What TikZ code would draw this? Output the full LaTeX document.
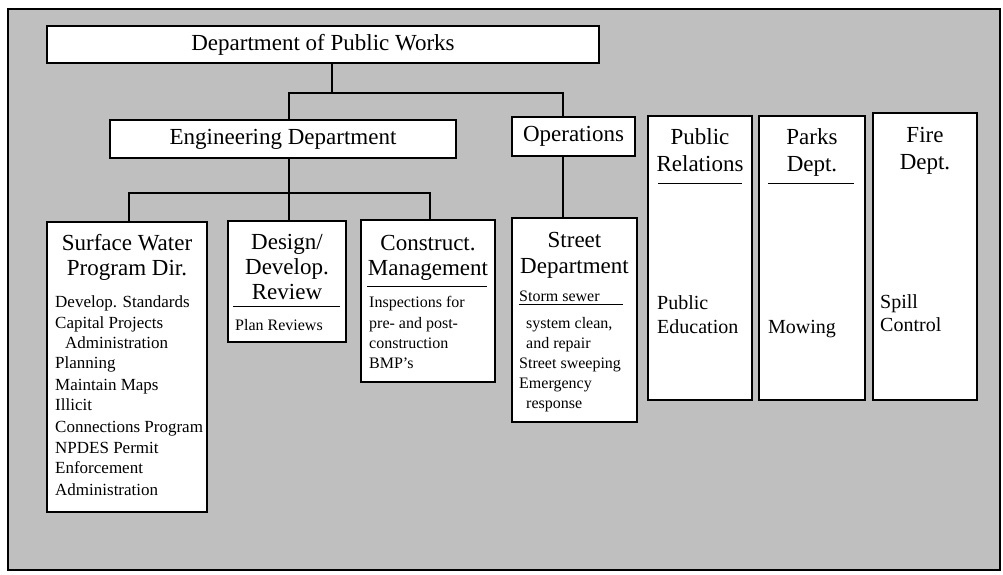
\documentclass[tikz,border=0pt]{standalone}
\usepackage{fontspec}
\setmainfont{Liberation Serif}
\begin{document}
\begin{tikzpicture}[x=1pt,y=-1pt,
  box/.style={draw=black, line width=1.4pt, fill=white, inner sep=0pt, rectangle},
  conn/.style={line width=1.8pt},
  hf/.style={font=\fontsize{23}{27}\selectfont},
  bf/.style={font=\fontsize{16}{20}\selectfont},
  bfl/.style={font=\fontsize{17}{20}\selectfont},
  bfr/.style={font=\fontsize{20}{24}\selectfont},
  ht/.style={inner sep=0pt, anchor=base, hf},
  bt/.style={inner sep=0pt, anchor=base west},
  rulel/.style={line width=0.9pt}]
\useasboundingbox (0,0) rectangle (1003,574);
\fill[black!25] (8,9) rectangle (1000,570);
\draw[line width=2pt] (8,9) rectangle (1000,570);

% boxes
\node[box, hf, minimum width=552pt, minimum height=37pt] (title) at (323,44.5) {Department of Public Works};
\node[box, hf, minimum width=346pt, minimum height=38pt] (eng) at (283,139) {Engineering Department};
\node[box, hf, minimum width=123pt, minimum height=39pt] (ops) at (573.5,136.5) {Operations};
\node[box, minimum width=160pt, minimum height=290pt] (sw) at (127,367) {};
\node[box, minimum width=118pt, minimum height=121pt] (design) at (287,281.5) {};
\node[box, minimum width=134pt, minimum height=162pt] (cons) at (428,301) {};
\node[box, minimum width=125pt, minimum height=204pt] (street) at (574.5,320) {};
\node[box, minimum width=104pt, minimum height=284pt] (pr) at (700,258) {};
\node[box, minimum width=106pt, minimum height=284pt] (parks) at (812,258) {};
\node[box, minimum width=104pt, minimum height=287pt] (fire) at (925,256.5) {};

% connectors
\coordinate (t1) at (332,93);
\coordinate (busL) at (289,93);
\coordinate (busR) at (563,93);
\coordinate (sbL) at (129,193);
\coordinate (sbM) at (289,193);
\coordinate (sbR) at (430,193);
\draw[conn] (t1 |- title.south) -- (t1);
\draw[conn] (busL |- eng.north) -- (busL) -- (busR) -- (busR |- ops.north);
\draw[conn] (busR |- ops.south) -- (busR |- street.north);
\draw[conn] (sbM |- eng.south) -- (sbM) -- (sbM |- design.north);
\draw[conn] (sbL |- sw.north) -- (sbL) -- (sbR) -- (sbR |- cons.north);

% Surface Water
\node[ht] (swh1) at (127,250) {Surface Water};
\node[ht] (swh2) at (127,275) {Program Dir.};
\node[bt,bfl] (swb1) at (55,307) {Develop. Standards};
\node[bt,bfl] (swb2) at (55,328) {Capital Projects};
\node[bt,bfl] (swb3) at (65,348) {Administration};
\node[bt,bfl] (swb4) at (55,368) {Planning};
\node[bt,bfl] (swb5) at (55,390) {Maintain Maps};
\node[bt,bfl] (swb6) at (55,410) {Illicit};
\node[bt,bfl] (swb7) at (55,432) {Connections Program};
\node[bt,bfl] (swb8) at (55,453) {NPDES Permit};
\node[bt,bfl] (swb9) at (55,473) {Enforcement};
\node[bt,bfl] (swb10) at (55,495) {Administration};

% Design
\node[ht] (dh1) at (287,249) {Design/};
\node[ht] (dh2) at (287,274) {Develop.};
\node[ht] (dh3) at (287,299) {Review};
\draw[rulel] (233,306) -- (340,306);
\node[bt,bf] (db1) at (235,330) {Plan Reviews};

% Construct
\node[ht] (ch1) at (428,250) {Construct.};
\node[ht] (ch2) at (428,275) {Management};
\draw[rulel] (367,286) -- (487,286);
\node[bt,bf] (cb1) at (369,307) {Inspections for};
\node[bt,bf] (cb2) at (369,328) {pre- and post-};
\node[bt,bf] (cb3) at (369,348) {construction};
\node[bt,bf] (cb4) at (369,368) {BMP's};

% Street
\node[ht] (sh1) at (574.5,247) {Street};
\node[ht] (sh2) at (574.5,273) {Department};
\node[bt,bf] (sb1) at (519,301) {Storm sewer};
\draw[rulel] (519,304) -- (623,304);
\node[bt,bf] (sb2) at (526,328) {system clean,};
\node[bt,bf] (sb3) at (526,348) {and repair};
\node[bt,bf] (sb4) at (519,368) {Street sweeping};
\node[bt,bf] (sb5) at (519,388) {Emergency};
\node[bt,bf] (sb6) at (526,408) {response};

% Public Relations
\node[ht] (prh1) at (700,144) {Public};
\node[ht] (prh2) at (700,171) {Relations};
\draw[rulel] (658,183) -- (742,183);
\node[bt,bfr] (prb1) at (657,309) {Public};
\node[bt,bfr] (prb2) at (657,333) {Education};

% Parks
\node[ht] (pkh1) at (812,144) {Parks};
\node[ht] (pkh2) at (812,171) {Dept.};
\draw[rulel] (768,183) -- (854,183);
\node[bt,bfr] (pkb1) at (768,333) {Mowing};

% Fire
\node[ht] (fh1) at (925,142) {Fire};
\node[ht] (fh2) at (925,169) {Dept.};
\node[bt,bfr] (fb1) at (880,308) {Spill};
\node[bt,bfr] (fb2) at (880,331) {Control};
\end{tikzpicture}
\end{document}
